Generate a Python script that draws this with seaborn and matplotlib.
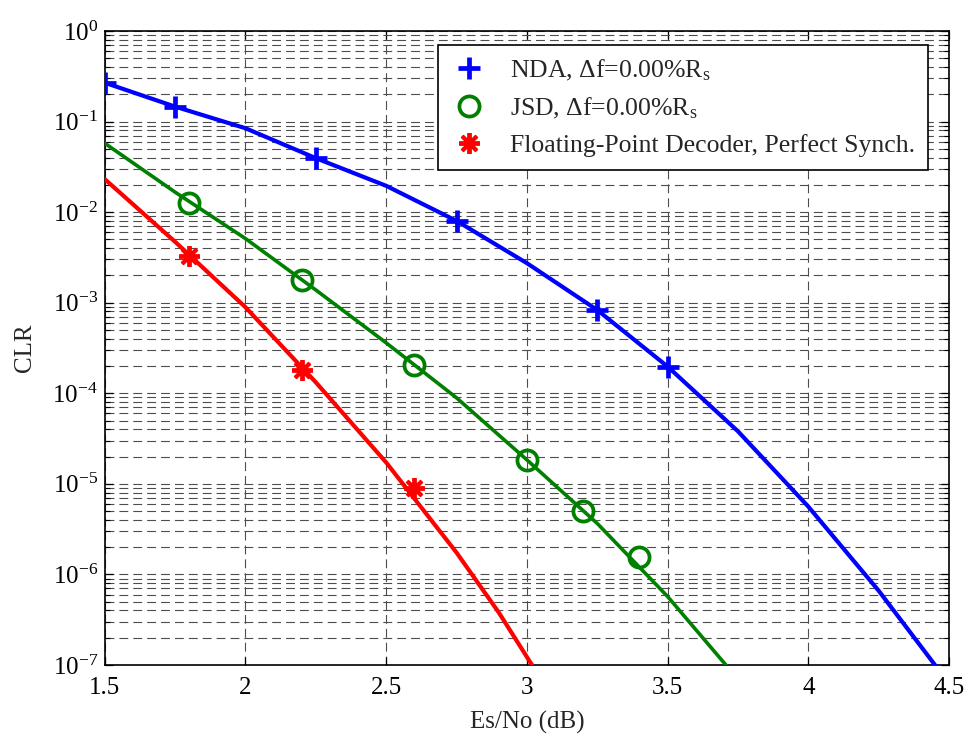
import numpy as np
import pandas as pd
import matplotlib
matplotlib.use("Agg")
import matplotlib.pyplot as plt
from matplotlib.ticker import FixedLocator, FuncFormatter, LogLocator, NullFormatter
import seaborn as sns

# Simulated points (markers)
nda_x = [1.5, 1.75, 2.25, 2.75, 3.25, 3.5]
nda_y = [0.268, 0.146, 0.0394, 0.0080, 8.3e-4, 1.97e-4]
jsd_x = [1.8, 2.2, 2.6, 3.0, 3.2, 3.4]
jsd_y = [0.0127, 1.79e-3, 2.03e-4, 1.84e-5, 5.0e-6, 1.55e-6]
fpd_x = [1.8, 2.2, 2.6]
fpd_y = [3.29e-3, 1.81e-4, 8.96e-6]

# Fitted curves
nda_fit_x = [1.5, 1.75, 2.0, 2.25, 2.5, 2.75, 3.0, 3.25, 3.5, 3.75, 4.0, 4.25, 4.45]
nda_fit_y = [0.268, 0.146, 0.0843, 0.0394, 0.0195, 0.0080, 2.73e-3, 8.3e-4,
             1.97e-4, 3.8e-5, 5.6e-6, 6.6e-7, 1.0e-7]
jsd_fit_x = [1.5, 1.75, 2.0, 2.25, 2.5, 2.75, 3.0, 3.25, 3.5, 3.707]
jsd_fit_y = [0.0575, 0.0166, 5.1e-3, 1.38e-3, 3.6e-4, 8.9e-5, 1.84e-5,
             3.65e-6, 5.7e-7, 1.0e-7]
fpd_fit_x = [1.5, 1.75, 2.0, 2.25, 2.5, 2.75, 2.9, 3.018]
fpd_fit_y = [0.0231, 4.7e-3, 8.9e-4, 1.32e-4, 1.72e-5, 1.74e-6, 3.8e-7, 1.0e-7]

labels = [r"NDA, $\Delta$f=0.00%R$_{\mathregular{s}}$",
          r"JSD, $\Delta$f=0.00%R$_{\mathregular{s}}$",
          "Floating-Point Decoder, Perfect Synch."]
colors = ["#0000ff", "#008000", "#ff0000"]

xticks = [1.5, 2.0, 2.5, 3.0, 3.5, 4.0, 4.5]

sns.set_style("ticks")
plt.rcParams["font.family"] = ["Liberation Serif", "DejaVu Serif"]
plt.rcParams["mathtext.fontset"] = "custom"
plt.rcParams["mathtext.rm"] = "Liberation Serif"
plt.rcParams["mathtext.it"] = "Liberation Serif"
plt.rcParams["mathtext.sf"] = "Liberation Serif"
plt.rcParams["axes.unicode_minus"] = False

fig = plt.figure(figsize=(9.72, 7.37), dpi=100)
ax = fig.add_axes([0.1078, 0.0977, 0.8686, 0.8603])

fits = [(nda_fit_x, nda_fit_y, 3.0), (jsd_fit_x, jsd_fit_y, 2.6), (fpd_fit_x, fpd_fit_y, 3.0)]
for (fx, fy, lw), c in zip(fits, colors):
    df = pd.DataFrame({"snr": fx, "clr": fy})
    sns.lineplot(data=df, x="snr", y="clr", ax=ax, color=c, lw=lw,
                 sort=False, errorbar=None, legend=False, zorder=3)

marks = [(nda_x, nda_y, "+", 16, 3.4, "none"),
         (jsd_x, jsd_y, "o", 14.5, 2.7, "none"),
         (fpd_x, fpd_y, (8, 2, 0), 15, 2.8, "none")]
for (mx, my, m, ms, mew, mfc), c, lab in zip(marks, colors, labels):
    df = pd.DataFrame({"snr": mx, "clr": my})
    sns.lineplot(data=df, x="snr", y="clr", ax=ax, color=c, linestyle="",
                 marker=m, markersize=ms, markeredgewidth=mew,
                 markerfacecolor=mfc, markeredgecolor=c,
                 sort=False, errorbar=None, label=lab, zorder=4)

ax.set_yscale("log")
ax.set_xlim(1.5, 4.5)
ax.set_ylim(1e-7, 1)
ax.xaxis.set_major_locator(FixedLocator(xticks))
ax.xaxis.set_major_formatter(FuncFormatter(lambda v, p: "%g" % v))
ax.yaxis.set_major_locator(LogLocator(base=10, numticks=20))
ax.yaxis.set_minor_locator(LogLocator(base=10, subs=np.arange(2, 10), numticks=20))
ax.yaxis.set_minor_formatter(NullFormatter())

grid_kw = dict(color="#4d4d4d", linestyle=(0, (8, 4.5)), linewidth=0.8)
ax.grid(True, which="major", axis="both", **grid_kw)
ax.grid(True, which="minor", axis="y", **grid_kw)
ax.set_axisbelow(True)

ax.tick_params(which="both", direction="in", top=True, right=True,
               colors="black", labelsize=18)
ax.tick_params(which="major", length=6, width=0.9)
ax.tick_params(which="minor", length=3.5, width=0.8)
ax.tick_params(axis="x", pad=9)
ax.tick_params(axis="y", pad=5)
for s in ax.spines.values():
    s.set_visible(True)
    s.set_color("black")
    s.set_linewidth(1.2)

ax.set_xlabel("Es/No (dB)", fontsize=18, labelpad=8)
ax.set_ylabel("CLR", fontsize=18, labelpad=12)

leg = ax.legend(loc="upper right", bbox_to_anchor=(0.975, 0.978),
                borderaxespad=0, fontsize=18.5, frameon=True, fancybox=False,
                framealpha=1, edgecolor="black", handlelength=1.4,
                handletextpad=0.9, labelspacing=0.5, borderpad=0.5)
leg.get_frame().set_linewidth(1.2)

fig.savefig("out.png", dpi=100, facecolor="white")
